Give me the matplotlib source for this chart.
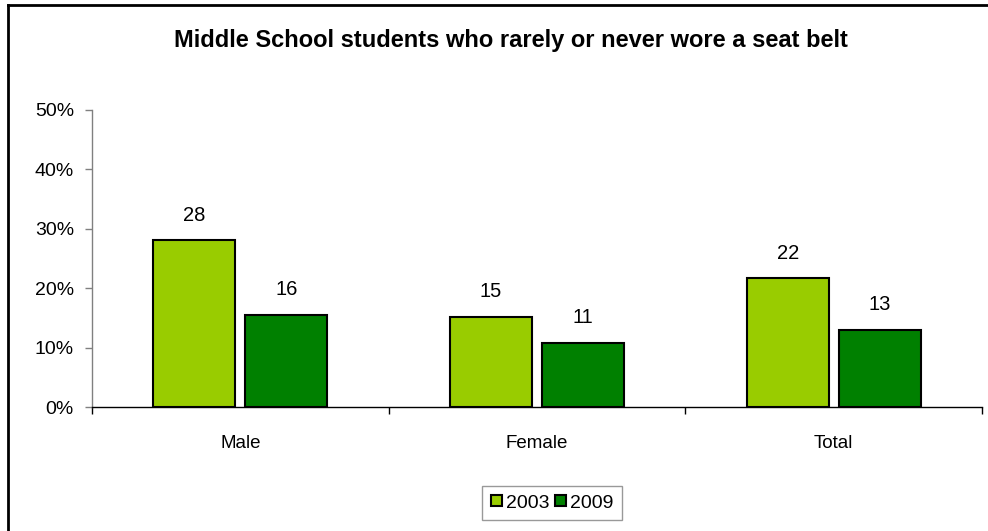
import matplotlib
matplotlib.use("Agg")
import matplotlib.pyplot as plt
from matplotlib.lines import Line2D
from matplotlib.ticker import FuncFormatter, FixedLocator
import numpy as np

categories = ["Male", "Female", "Total"]
series_names = ["2003", "2009"]
values_2003 = [28.1, 15.2, 21.7]
values_2009 = [15.5, 10.8, 13.0]
labels_2003 = ["28", "15", "22"]
labels_2009 = ["16", "11", "13"]
title = "Middle School students who rarely or never wore a seat belt"

plt.rcParams['font.family'] = ['Liberation Sans', 'DejaVu Sans']

W, H = 988, 531
fig = plt.figure(figsize=(W / 100, H / 100), dpi=100)
ax = fig.add_axes([92 / W, 1 - 407 / H, (982 - 92) / W, (407 - 110) / H])

x = np.arange(len(categories))
bw = 0.276
off = 0.155
colors = ["#99CC00", "#008000"]
b1 = ax.bar(x - off, values_2003, bw, color=colors[0], edgecolor="black", linewidth=1.5, label=series_names[0], zorder=3)
b2 = ax.bar(x + off, values_2009, bw, color=colors[1], edgecolor="black", linewidth=1.5, label=series_names[1], zorder=3)

for bars, labs in ((b1, labels_2003), (b2, labels_2009)):
    for rect, lab in zip(bars, labs):
        ax.annotate(lab, (rect.get_x() + rect.get_width() / 2, rect.get_height()),
                    xytext=(0, 18), textcoords="offset points", ha="center", va="center",
                    fontsize=14.5)

ax.set_xlim(-0.5, 2.5)
ax.set_ylim(0, 50)
ax.set_yticks([0, 10, 20, 30, 40, 50])
ax.yaxis.set_major_formatter(FuncFormatter(lambda v, p: f"{int(v)}%"))
ax.set_xticks(x)
ax.set_xticklabels(categories)
ax.xaxis.set_minor_locator(FixedLocator([-0.5, 0.5, 1.5, 2.5]))
ax.tick_params(axis="x", which="major", length=0, pad=20, labelsize=13.5)
ax.tick_params(axis="x", which="minor", length=5, direction="out", width=1)
ax.tick_params(axis="y", length=5, direction="out", width=1, color="#808080", labelsize=14, pad=8)

for s in ("top", "right"):
    ax.spines[s].set_visible(False)
ax.spines["left"].set_color("#808080")
ax.spines["left"].set_linewidth(1)
ax.spines["bottom"].set_color("black")
ax.spines["bottom"].set_linewidth(1)

fig.text(511 / W, 1 - 41 / H, title, ha="center", va="center", fontsize=17, fontweight="bold")

leg = fig.legend(loc="center", bbox_to_anchor=(552 / W, 1 - 503 / H), ncol=2, fontsize=14,
                 frameon=True, fancybox=False, edgecolor="#808080", handlelength=0.55,
                 handleheight=0.55, handletextpad=0.2, columnspacing=0.3, borderpad=0.45,
                 borderaxespad=0)
leg.get_frame().set_linewidth(1)

fig.add_artist(Line2D([8 / W, 1], [1 - 5 / H, 1 - 5 / H], transform=fig.transFigure, color="black", linewidth=2))
fig.add_artist(Line2D([8 / W, 8 / W], [0, 1 - 5 / H], transform=fig.transFigure, color="black", linewidth=2))

fig.savefig("out.png", dpi=100, facecolor="white")
